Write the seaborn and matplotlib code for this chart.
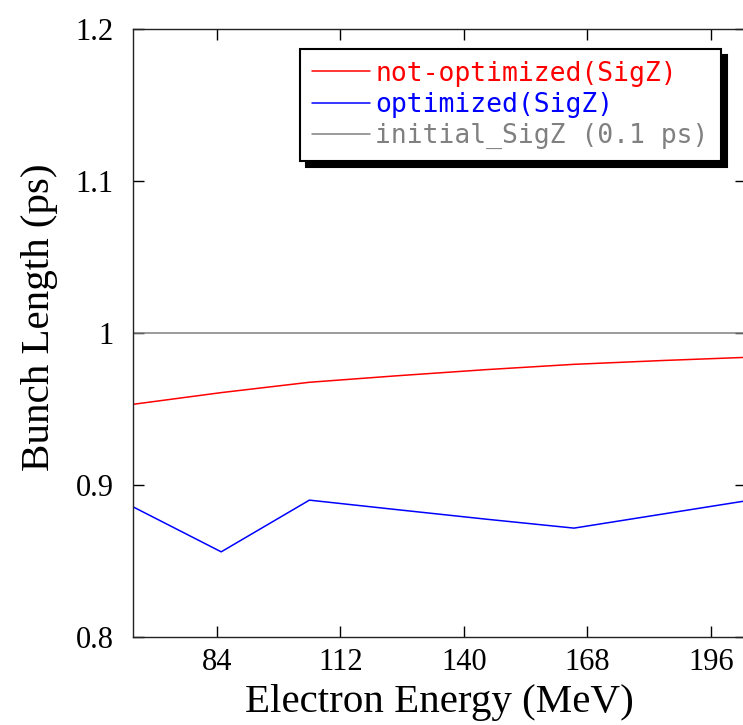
import matplotlib
matplotlib.use("Agg")
import matplotlib.pyplot as plt
import seaborn as sns
import pandas as pd

# Beam energy scan (MeV) and resulting rms bunch length (ps)
energy = [65, 85, 105, 125, 145, 165, 185, 205]
sigz_not_optimized = [0.953, 0.9607, 0.9675, 0.9718, 0.9758, 0.9793, 0.9818, 0.9840]
sigz_optimized = [0.8856, 0.8560, 0.8900, 0.8837, 0.8775, 0.8716, 0.8808, 0.8900]
sigz_initial = [1.0, 1.0, 1.0, 1.0, 1.0, 1.0, 1.0, 1.0]

series_names = ["not-optimized(SigZ)", "optimized(SigZ)", "initial_SigZ (0.1 ps)"]
series_colors = ["#ff0000", "#0000ff", "#808080"]

x_ticks = [84, 112, 140, 168, 196]
y_ticks = [0.8, 0.9, 1.0, 1.1, 1.2]
y_tick_labels = ["0.8", "0.9", "1", "1.1", "1.2"]

df = pd.DataFrame({
    "energy": energy * 3,
    "sigz": sigz_not_optimized + sigz_optimized + sigz_initial,
    "series": [series_names[0]] * len(energy)
              + [series_names[1]] * len(energy)
              + [series_names[2]] * len(energy),
})

sns.set_style("ticks")
plt.rcParams["font.family"] = ["Liberation Serif", "DejaVu Serif"]
plt.rcParams["text.color"] = "black"
plt.rcParams["axes.labelcolor"] = "black"

W, H = 743, 725
fig = plt.figure(figsize=(W / 100, H / 100), dpi=100)
ax = fig.add_axes([133 / W, 1 - 637 / H, 613 / W, 608.3 / H])

sns.lineplot(data=df, x="energy", y="sigz", hue="series",
             palette=dict(zip(series_names, series_colors)),
             hue_order=series_names, linewidth=1.1, ax=ax, legend=True)

ax.set_xlim(65, 204)
ax.set_ylim(0.8, 1.2)
ax.set_xticks(x_ticks)
ax.set_xticklabels([str(t) for t in x_ticks])
ax.set_yticks(y_ticks)
ax.set_yticklabels(y_tick_labels)
ax.tick_params(direction="in", length=8, width=1.0, top=True, right=True,
               labelsize=22, colors="black")
ax.tick_params(axis="y", pad=14)
ax.tick_params(axis="x", pad=8)
for s in ax.spines.values():
    s.set_linewidth(1.0)
    s.set_color("#222222")

ax.set_xlabel("Electron Energy (MeV)", fontsize=29.5, labelpad=5)
ax.set_ylabel("Bunch Length (ps)", fontsize=29.5)
ax.yaxis.set_label_coords(-0.122, 0.525)

leg = ax.legend(loc="upper left", bbox_to_anchor=(0.2725, 0.967),
                frameon=True, fancybox=False,
                shadow={"ox": 4.5, "oy": -4.5, "color": "black", "alpha": 1},
                prop={"family": "DejaVu Sans Mono", "size": 19},
                handlelength=2.2, handletextpad=0.2, borderpad=0.45,
                labelspacing=0.2, borderaxespad=0, labelcolor="linecolor")
leg.get_frame().set_edgecolor("black")
leg.get_frame().set_linewidth(1.5)
leg.get_frame().set_alpha(1)

fig.savefig("out.png", dpi=100)
